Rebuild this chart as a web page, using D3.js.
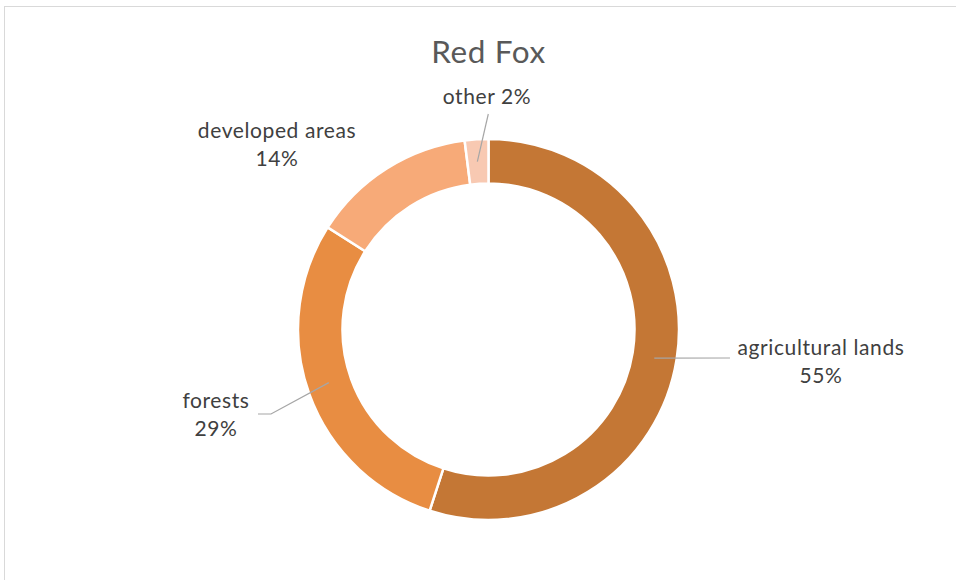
<!DOCTYPE html>
<html>
<head>
<meta charset="utf-8">
<script src="https://cdn.jsdelivr.net/npm/d3@7/dist/d3.min.js"></script>
<style>
  html, body { margin: 0; padding: 0; background: #ffffff; }
  svg { display: block; }
</style>
</head>
<body>
<svg id="chart" width="956" height="580"></svg>
<script>
// Habitat share for the red fox
const categories = ["agricultural lands", "forests", "developed areas", "other"];
const values = [55, 29, 14, 2];
const colors = ["#C47735", "#E88D42", "#F7AA78", "#F8C9B2"];
const title = "Red Fox";

// Label placement (centre x, first baseline) and leader geometry per slice;
// leader angles are measured clockwise from 12 o'clock
const labelLayout = {
  "agricultural lands": { x: 821, y: 355, twoLine: true, leader: { angleDeg: 99.8, via: [[730, 358]] } },
  "forests":            { x: 216, y: 408, twoLine: true, leader: { angleDeg: 251.6, via: [[258, 414], [271, 414]] } },
  "developed areas":    { x: 277, y: 138, twoLine: true, leader: null },
  "other":              { x: 487, y: 104, twoLine: false, leader: { angleDeg: 356.2, via: [[488.3, 114]] } }
};

const width = 956, height = 580;
const cx = 488.5, cy = 329.5;
const outerR = 190.5, innerR = 146;
const midR = (outerR + innerR) / 2;

const svg = d3.select("#chart");

// chart frame
svg.append("rect")
  .attr("x", 4.5).attr("y", 6.5)
  .attr("width", width + 20).attr("height", height + 20)
  .attr("fill", "#ffffff")
  .attr("stroke", "#d9d9d9")
  .attr("stroke-width", 1);

// title
svg.append("text")
  .attr("x", cx).attr("y", 62.5)
  .attr("text-anchor", "middle")
  .attr("font-family", "Lato, 'Open Sans', sans-serif")
  .attr("font-size", 31.5)
  .attr("letter-spacing", 0.6)
  .attr("fill", "#595959")
  .text(title);

const data = categories.map((c, i) => ({ category: c, value: values[i], color: colors[i] }));
const total = d3.sum(values);

const pie = d3.pie().sort(null).value(d => d.value).startAngle(0).endAngle(2 * Math.PI);
const arc = d3.arc().innerRadius(innerR).outerRadius(outerR);

const g = svg.append("g").attr("transform", `translate(${cx},${cy})`);

g.selectAll("path.slice")
  .data(pie(data))
  .join("path")
  .attr("class", "slice")
  .attr("d", arc)
  .attr("fill", d => d.data.color)
  .attr("stroke", "#ffffff")
  .attr("stroke-width", 2.5)
  .attr("stroke-linejoin", "miter");

// leader lines
const line = d3.line();
data.forEach(d => {
  const lay = labelLayout[d.category];
  if (!lay.leader) return;
  const a = lay.leader.angleDeg * Math.PI / 180;
  const end = [cx + midR * Math.sin(a), cy - midR * Math.cos(a)];
  const pts = lay.leader.via.concat([end]);
  svg.append("path")
    .attr("d", line(pts))
    .attr("fill", "none")
    .attr("stroke", "#a6a6a6")
    .attr("stroke-width", 1.2);
});

// data labels
const fmt = v => Math.round(v / total * 100) + "%";
data.forEach(d => {
  const lay = labelLayout[d.category];
  const t = svg.append("text")
    .attr("text-anchor", "middle")
    .attr("font-family", "Lato, 'Open Sans', sans-serif")
    .attr("font-size", 21)
    .attr("letter-spacing", 0.6)
    .attr("fill", "#404040");
  if (lay.twoLine) {
    t.append("tspan").attr("x", lay.x).attr("y", lay.y).text(d.category);
    t.append("tspan").attr("x", lay.x).attr("y", lay.y + 28).text(fmt(d.value));
  } else {
    t.append("tspan").attr("x", lay.x).attr("y", lay.y).text(d.category + " " + fmt(d.value));
  }
});
</script>
</body>
</html>
